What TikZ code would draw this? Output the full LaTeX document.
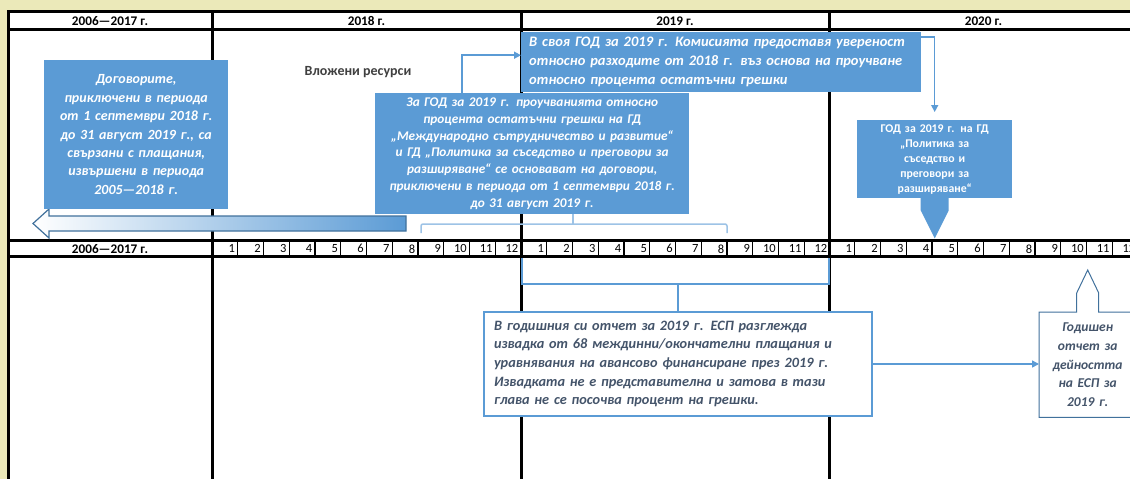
\documentclass[tikz,border=0pt]{standalone}
\usepackage{fontspec}
\setmainfont{Carlito}
\usetikzlibrary{arrows.meta,positioning}
\definecolor{paper}{RGB}{235,233,185}
\definecolor{boxblue}{RGB}{91,155,213}
\definecolor{edgeblue}{RGB}{65,113,156}
\definecolor{paleblue}{RGB}{157,195,230}
\definecolor{slate}{RGB}{68,84,106}
\definecolor{inkgray}{RGB}{64,64,64}

\begin{document}
\begin{tikzpicture}[x=1pt,y=-1pt,
    tableline/.style={line width=3pt,black},
    monthline/.style={line width=1.2pt,black},
    yearlabel/.style={font=\fontsize{13.2}{14}\selectfont\bfseries,inner sep=0pt},
    monthlabel/.style={font=\fontsize{12.5}{13}\selectfont,inner sep=0pt,anchor=east},
    bluebox/.style={fill=boxblue,text=white,anchor=north west,inner xsep=5pt,inner ysep=0pt,
        font=\fontsize{14}{18.4}\selectfont\bfseries\itshape},
    whitebox/.style={fill=white,text=slate,anchor=north west,inner xsep=5pt,inner ysep=0pt,
        font=\fontsize{14.3}{18.7}\selectfont\bfseries\itshape},
    link/.style={draw=boxblue,line width=1.5pt},
    bracelink/.style={draw=paleblue,line width=1.5pt,rounded corners=2pt},
    yearbracket/.style={draw=boxblue,line width=2.5pt},
    >={Triangle[width=7pt,length=7pt]}]

\useasboundingbox (0,0) rectangle (1130,479);
\fill[paper] (0,0) rectangle (1130,479);
\fill[white] (8,11) rectangle (1130,479);
\clip (0,0) rectangle (1130,479);

% table
\foreach \y in {11.5,29.5,240.5,256.5}
  \draw[tableline] (7,\y) -- (1130,\y);
\foreach \x in {8.5,212,521,829}
  \draw[tableline] (\x,10) -- (\x,479);
\foreach \s in {212,521,829}
  \foreach \m in {1,...,12}{
    \draw[monthline] (\s+\m*25.75,240.5) -- (\s+\m*25.75,256.5);
    \node[monthlabel] (m\s-\m) at (\s+\m*25.75-2.5,248.8) {\m};
  }

\node[yearlabel] (head0)  at (110,21)   {2006—2017 г.};
\node[yearlabel] (head18) at (366.5,21) {2018 г.};
\node[yearlabel] (head19) at (675,21)   {2019 г.};
\node[yearlabel] (head20) at (983.5,21) {2020 г.};
\node[yearlabel] (month0) at (110,248.8) {2006—2017 г.};

\draw[draw=edgeblue,line width=1.2pt,left color=white,right color=boxblue]
  (406,216) -- (49,216) -- (49,209) -- (33,223.5) -- (49,238) -- (49,231) -- (406,231) -- cycle;

\node[bluebox,minimum width=184,minimum height=149,text width=174,align=center] (contracts) at (44,60)
  {Договорите,\\приключени в периода\\от 1 септември 2018 г.\\до 31 август 2019 г., са\\свързани с плащания,\\извършени в периода\\2005—2018 г.};

\node[font=\fontsize{14}{16}\selectfont\bfseries,text=inkgray] (inputs) at (358,72) {Вложени ресурси};

\node[bluebox,minimum width=314,minimum height=121,text width=308,inner xsep=3pt,align=center,
      font=\fontsize{13.3}{16.7}\selectfont\bfseries\itshape] (audits) at (375,93)
  {За ГОД за 2019 г. проучванията относно\\процента остатъчни грешки на ГД\\„Международно сътрудничество и развитие“\\и ГД „Политика за съседство и преговори за\\разширяване“ се основават на договори,\\приключени в периода от 1 септември 2018 г.\\до 31 август 2019 г.};

\node[bluebox,minimum width=400,minimum height=60,text width=384,inner xsep=8pt,align=left,
      font=\fontsize{14.5}{19}\selectfont\bfseries\itshape] (assurance) at (521,32)
  {В своя ГОД за 2019 г. Комисията предоставя увереност\\относно разходите от 2018 г. въз основа на проучване\\относно процента остатъчни грешки};

\node[bluebox,minimum width=155,minimum height=78,text width=145,align=center,
      font=\fontsize{11.8}{15}\selectfont\bfseries] (gd) at (857,120)
  {ГОД за 2019 г. на ГД\\„Политика за\\съседство и\\преговори за\\разширяване“};
\fill[boxblue] ([xshift=-14pt,yshift=1pt]gd.south) -- ++(0,13) -- ++(14,28) -- ++(14,-28) -- ++(0,-13) -- cycle;

\node[whitebox,draw=boxblue,line width=2pt,minimum width=388,minimum height=104,text width=368,inner xsep=10pt,align=left] (sample) at (483,311)
  {В годишния си отчет за 2019 г. ЕСП разглежда\\извадка от 68 междинни/окончателни плащания и\\уравнявания на авансово финансиране през 2019 г.\\Извадката не е представителна и затова в тази\\глава не се посочва процент на грешки.};

\node[whitebox,minimum width=97,minimum height=105,text width=87,align=center,
      font=\fontsize{13.5}{18.7}\selectfont\bfseries\itshape] (annual) at (1039,312)
  {Годишен\\отчет за\\дейността\\на ЕСП за\\2019 г.};
\draw[draw=edgeblue,line width=1pt] (annual.north west) -- ([xshift=-11pt]annual.north) -- ++(0,-19) -- ++(11,-23)
  -- ++(11,23) -- ++(0,19) -- (annual.north east) -- (annual.south east) -- (annual.south west) -- cycle;

% connectors
\draw[link,->] ([xshift=87pt]audits.north west) |- ([yshift=7pt]assurance.west);
\draw[link,->] ([yshift=-5pt]assurance.north east) -| ([yshift=8pt]gd.north);
\draw[bracelink] (421,233) |- (727,224) -- (727,233);
\draw[bracelink] (573,224) -- (573,0 |- audits.south);
\draw[yearbracket] (522,258) |- (829,284) -- (829,258);
\draw[yearbracket] (sample.north) -- (sample.north |- 0,284);
\draw[link,->] (sample.east) -- (sample.east -| annual.west);
\end{tikzpicture}
\end{document}
